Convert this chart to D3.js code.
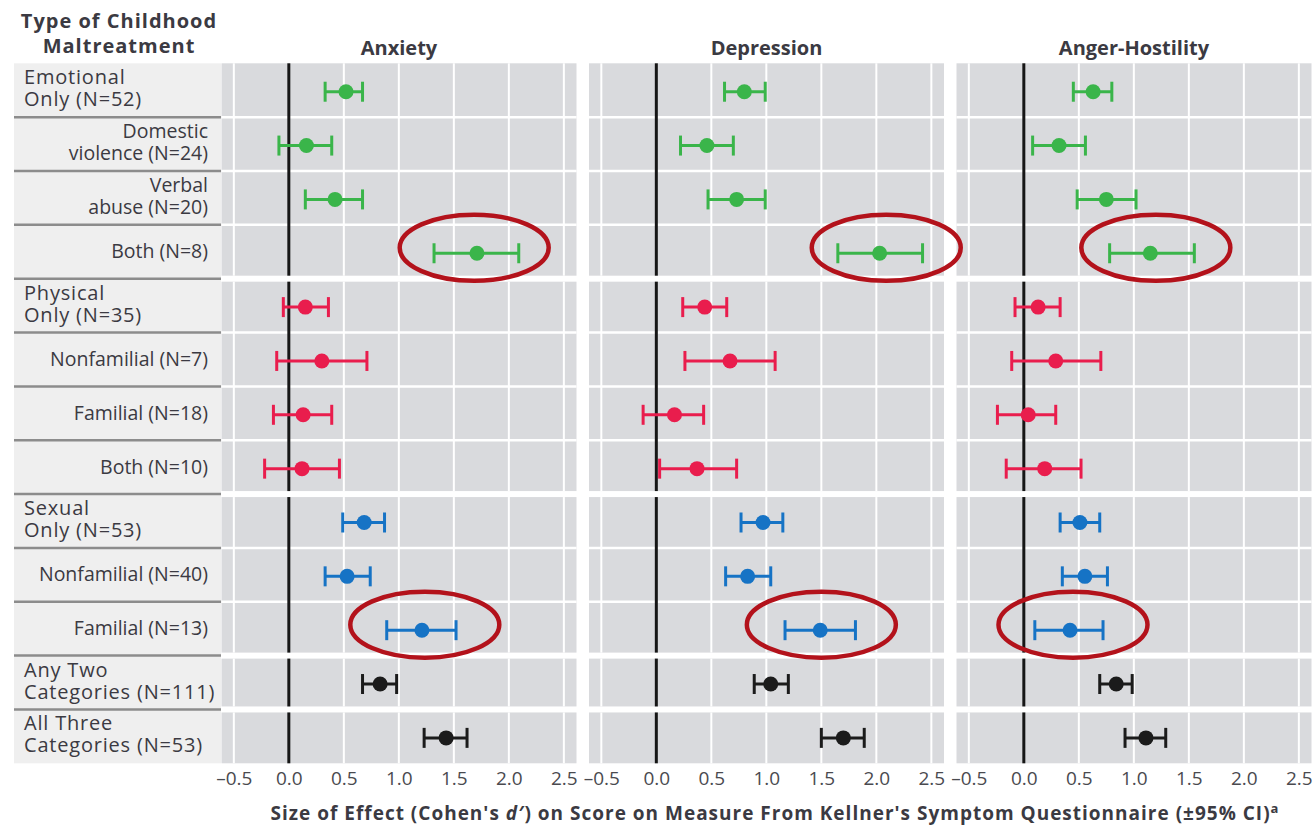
<!DOCTYPE html>
<html>
<head>
<meta charset="utf-8">
<script src="https://cdn.jsdelivr.net/npm/d3@7"></script>
<style>
  body { margin: 0; background: #fff; }
  text { font-family: "Open Sans", "Noto Sans", sans-serif; }
</style>
</head>
<body>
<svg id="chart" width="1313" height="826"></svg>
<script>
// Rows of the forest plot, top to bottom
const rowLabels = [
  ["Emotional", "Only (N=52)"],
  ["Domestic", "violence (N=24)"],
  ["Verbal", "abuse (N=20)"],
  ["Both (N=8)"],
  ["Physical", "Only (N=35)"],
  ["Nonfamilial (N=7)"],
  ["Familial (N=18)"],
  ["Both (N=10)"],
  ["Sexual", "Only (N=53)"],
  ["Nonfamilial (N=40)"],
  ["Familial (N=13)"],
  ["Any Two", "Categories (N=111)"],
  ["All Three", "Categories (N=53)"]
];
const rowIsGroupHead = [true, false, false, false, true, false, false, false, true, false, false, true, true];
const rowGroup = [0, 0, 0, 0, 1, 1, 1, 1, 2, 2, 2, 3, 4];
const groupColors = ["#3ab54a", "#e91d4d", "#1673c5", "#1b1b1b", "#1b1b1b"];

const measures = ["Anxiety", "Depression", "Anger-Hostility"];

// Cohen's d and 95% CI per row
const anxietyD  = [0.52, 0.16, 0.42, 1.71, 0.15, 0.30, 0.13, 0.12, 0.685, 0.53, 1.21, 0.83, 1.43];
const anxietyLo = [0.33, -0.09, 0.15, 1.32, -0.05, -0.11, -0.14, -0.22, 0.49, 0.33, 0.89, 0.67, 1.23];
const anxietyHi = [0.67, 0.39, 0.67, 2.09, 0.36, 0.71, 0.39, 0.46, 0.87, 0.74, 1.52, 0.98, 1.62];

const depressionD  = [0.80, 0.46, 0.73, 2.03, 0.44, 0.67, 0.165, 0.37, 0.97, 0.83, 1.49, 1.04, 1.70];
const depressionLo = [0.62, 0.22, 0.47, 1.65, 0.24, 0.26, -0.12, 0.03, 0.77, 0.63, 1.17, 0.89, 1.50];
const depressionHi = [0.99, 0.70, 0.99, 2.42, 0.64, 1.08, 0.43, 0.73, 1.15, 1.04, 1.81, 1.20, 1.89];

const angerD  = [0.63, 0.32, 0.75, 1.15, 0.13, 0.29, 0.04, 0.19, 0.51, 0.555, 0.42, 0.84, 1.11];
const angerLo = [0.45, 0.08, 0.485, 0.78, -0.08, -0.11, -0.24, -0.16, 0.33, 0.35, 0.10, 0.69, 0.92];
const angerHi = [0.80, 0.56, 1.02, 1.55, 0.33, 0.70, 0.29, 0.52, 0.69, 0.76, 0.72, 0.985, 1.29];

const tickValues = [-0.5, 0, 0.5, 1.0, 1.5, 2.0, 2.5];
const tickLabels = ["\u20130.5", "0.0", "0.5", "1.0", "1.5", "2.0", "2.5"];

// Circled findings: measure index, row index, ellipse centre on the d scale
const highlightMeasure = [0, 1, 2, 0, 1, 2];
const highlightRow     = [3, 3, 3, 10, 10, 10];
const highlightCenter  = [1.685, 2.09, 1.20, 1.236, 1.50, 0.447];

const series = [
  { d: anxietyD, lo: anxietyLo, hi: anxietyHi },
  { d: depressionD, lo: depressionLo, hi: depressionHi },
  { d: angerD, lo: angerLo, hi: angerHi }
];

// ---- layout ----
const svg = d3.select("#chart");
const labelX0 = 14, labelX1 = 221;
const plotTop = 63.3, plotBottom = 763.3;
const panelLeft = 221.5, panelW = 355, panelStep = 367.5;
const gapHalf = 3;
const panelBg = "#d9dadd";
const textColor = "#3b3a42";

const y = d3.scaleBand().domain(d3.range(rowLabels.length)).range([plotTop, plotBottom]).padding(0);
const x = d3.scaleLinear().domain([-0.612, 2.615]).range([0, panelW]);

const groups = d3.groups(d3.range(rowLabels.length), i => rowGroup[i]).map(([g, rows]) => ({ g, rows }));
const nGroups = groups.length;
groups.forEach(gr => {
  const first = gr.rows[0], last = gr.rows[gr.rows.length - 1];
  gr.top = y(first) + (gr.g > 0 ? gapHalf : 0);
  gr.bottom = y(last) + y.bandwidth() - (gr.g < nGroups - 1 ? gapHalf : 0);
});

// ---- left label column ----
const lab = svg.append("g");
lab.append("rect")
  .attr("x", labelX0).attr("y", plotTop)
  .attr("width", labelX1 - labelX0).attr("height", plotBottom - plotTop)
  .attr("fill", "#efefef");
lab.selectAll("line.sep").data(d3.range(1, rowLabels.length)).join("line")
  .attr("class", "sep")
  .attr("x1", labelX0).attr("x2", labelX1)
  .attr("y1", i => y(i)).attr("y2", i => y(i))
  .attr("stroke", "#8c8c8c").attr("stroke-width", 2.5);

rowLabels.forEach((lines, i) => {
  const c = y(i) + y.bandwidth() / 2;
  const head = rowIsGroupHead[i];
  const t = lab.append("text")
    .attr("font-size", head ? 20 : 19.5)
    .attr("letter-spacing", head ? 0.8 : 0)
    .attr("fill", textColor)
    .attr("text-anchor", head ? "start" : "end");
  const xx = head ? 24 : 208;
  if (lines.length === 2) {
    t.append("tspan").attr("x", xx).attr("y", c - 6).text(lines[0]);
    t.append("tspan").attr("x", xx).attr("y", c + 16).text(lines[1]);
  } else {
    t.append("tspan").attr("x", xx).attr("y", c + 6.5).text(lines[0]);
  }
});

// Column header of the label column
const hdr = svg.append("text")
  .attr("font-size", 20).attr("font-weight", 700)
  .attr("letter-spacing", 1)
  .attr("fill", textColor).attr("text-anchor", "middle");
hdr.append("tspan").attr("x", 119).attr("y", 28).text("Type of Childhood");
hdr.append("tspan").attr("x", 119).attr("y", 53).text("Maltreatment");

// ---- panels ----
measures.forEach((name, m) => {
  const px = panelLeft + m * panelStep;
  const pg = svg.append("g").attr("transform", `translate(${px},0)`);
  const s = series[m];

  pg.append("text")
    .attr("x", panelW / 2).attr("y", 55)
    .attr("text-anchor", "middle")
    .attr("font-size", 20).attr("font-weight", 700)
    .attr("fill", textColor)
    .text(name);

  groups.forEach(gr => {
    const gg = pg.append("g");
    gg.append("rect")
      .attr("x", 0).attr("y", gr.top)
      .attr("width", panelW).attr("height", gr.bottom - gr.top)
      .attr("fill", panelBg);

    // vertical grid
    gg.selectAll("line.vg").data(tickValues.filter(v => v !== 0)).join("line")
      .attr("class", "vg")
      .attr("x1", d => x(d)).attr("x2", d => x(d))
      .attr("y1", gr.top).attr("y2", gr.bottom)
      .attr("stroke", "#fff").attr("stroke-width", 2);

    // row separators inside the group
    gg.selectAll("line.hg").data(gr.rows.slice(1)).join("line")
      .attr("class", "hg")
      .attr("x1", 0).attr("x2", panelW)
      .attr("y1", i => y(i)).attr("y2", i => y(i))
      .attr("stroke", "#fff").attr("stroke-width", 2.5);

    // reference line at d = 0
    gg.append("line")
      .attr("x1", x(0)).attr("x2", x(0))
      .attr("y1", gr.top).attr("y2", gr.bottom)
      .attr("stroke", "#161616").attr("stroke-width", 3);

    // error bars and points
    gr.rows.forEach(i => {
      const cy = y(i) + y.bandwidth() / 2 + 1.5;
      const col = groupColors[rowGroup[i]];
      const eb = gg.append("g").attr("stroke", col).attr("stroke-width", 3);
      eb.append("line").attr("x1", x(s.lo[i])).attr("x2", x(s.hi[i])).attr("y1", cy).attr("y2", cy);
      eb.append("line").attr("x1", x(s.lo[i])).attr("x2", x(s.lo[i])).attr("y1", cy - 10).attr("y2", cy + 10);
      eb.append("line").attr("x1", x(s.hi[i])).attr("x2", x(s.hi[i])).attr("y1", cy - 10).attr("y2", cy + 10);
      gg.append("circle").attr("cx", x(s.d[i])).attr("cy", cy).attr("r", 7.5).attr("fill", col);
    });
  });

  // x axis
  const ax = pg.append("g")
    .attr("transform", `translate(0,${plotBottom})`)
    .call(d3.axisBottom(x).tickValues(tickValues).tickFormat((d, i) => tickLabels[i]).tickSize(0).tickPadding(8));
  ax.select(".domain").remove();
  ax.selectAll("text")
    .attr("font-size", 19).attr("fill", "#4a4a4f")
    .attr("font-family", "\"Open Sans\", sans-serif");
});

// ---- highlight ellipses ----
highlightRow.forEach((r, k) => {
  const px = panelLeft + highlightMeasure[k] * panelStep;
  svg.append("ellipse")
    .attr("cx", px + x(highlightCenter[k]))
    .attr("cy", y(r) + y.bandwidth() / 2 - 4)
    .attr("rx", 74.5).attr("ry", 33)
    .attr("fill", "none")
    .attr("stroke", "#b3121b").attr("stroke-width", 4.5);
});

// ---- x axis title ----
const xt = svg.append("text")
  .attr("x", 775).attr("y", 820)
  .attr("text-anchor", "middle")
  .attr("font-size", 19).attr("font-weight", 700)
  .attr("letter-spacing", 1)
  .attr("fill", textColor);
xt.append("tspan").text("Size of Effect (Cohen's ");
xt.append("tspan").attr("font-style", "italic").text("d\u2032");
xt.append("tspan").text(") on Score on Measure From Kellner's Symptom Questionnaire (\u00b195% CI)");
xt.append("tspan").attr("dy", -7).attr("font-size", 13).text("a");
</script>
</body>
</html>
